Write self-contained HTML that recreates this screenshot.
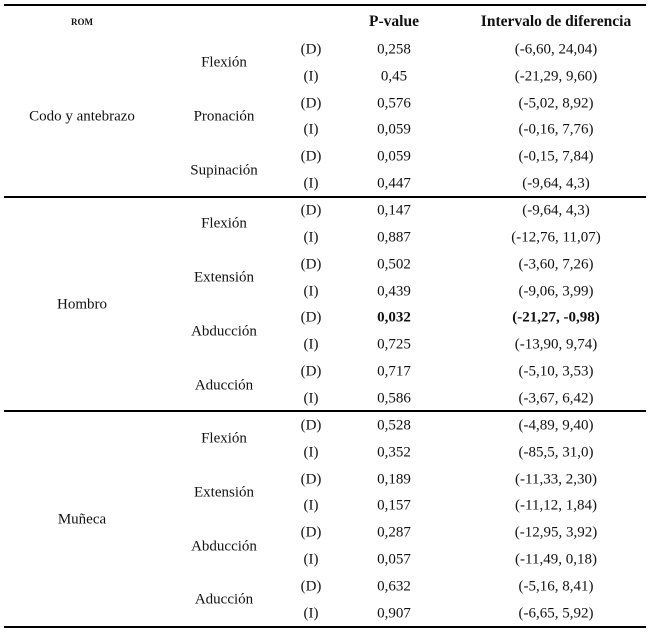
<!DOCTYPE html>
<html><head><meta charset="utf-8">
<style>
html,body{margin:0;padding:0;background:#fff;}
#t{position:relative;width:652px;height:633px;font-family:"Liberation Serif","DejaVu Serif",serif;font-size:15px;color:#111;}
.c{position:absolute;transform:translate(-50%,-50%);white-space:nowrap;}
.ln{position:absolute;left:4px;width:642px;height:1.5px;background:#000;}
.h{font-weight:bold;font-size:15.5px;}
</style></head><body>
<div id="t">
<div class="ln" style="top:4px"></div>
<div class="ln" style="top:196px"></div>
<div class="ln" style="top:410px"></div>
<div class="ln" style="top:626px"></div>
<div class="c h" style="left:82px;top:22px;font-size:9px">ROM</div>
<div class="c h" style="left:394px;top:22px">P-value</div>
<div class="c h" style="left:556px;top:22px">Intervalo de diferencia</div>
</div>
<script>
const groups=["Codo y antebrazo","Hombro","Muñeca"];
const groupRows=[6,8,8];
const movements=["Flexión","Pronación","Supinación","Flexión","Extensión","Abducción","Aducción","Flexión","Extensión","Abducción","Aducción"];
const pvalues=["0,258","0,45","0,576","0,059","0,059","0,447","0,147","0,887","0,502","0,439","0,032","0,725","0,717","0,586","0,528","0,352","0,189","0,157","0,287","0,057","0,632","0,907"];
const intervals=["(-6,60, 24,04)","(-21,29, 9,60)","(-5,02, 8,92)","(-0,16, 7,76)","(-0,15, 7,84)","(-9,64, 4,3)","(-9,64, 4,3)","(-12,76, 11,07)","(-3,60, 7,26)","(-9,06, 3,99)","(-21,27, -0,98)","(-13,90, 9,74)","(-5,10, 3,53)","(-3,67, 6,42)","(-4,89, 9,40)","(-85,5, 31,0)","(-11,33, 2,30)","(-11,12, 1,84)","(-12,95, 3,92)","(-11,49, 0,18)","(-5,16, 8,41)","(-6,65, 5,92)"];
const boldRows=[10];
const t=document.getElementById('t');
const top0=36.5, rh=26.85;
function cell(txt,x,y,bold){
  const d=document.createElement('div');
  d.className='c';
  d.textContent=txt;
  d.style.left=x+'px';d.style.top=y+'px';
  if(bold)d.style.fontWeight='bold';
  t.appendChild(d);
  return d;
}
let r=0;
groups.forEach((g,i)=>{
  const y=top0+(r+groupRows[i]/2)*rh;
  const d=cell(g,82,y,false);
  
  
  r+=groupRows[i];
});
movements.forEach((m,i)=>{
  const d=cell(m,224,top0+(i*2+1)*rh,false);
  
  
});
pvalues.forEach((p,i)=>{
  const y=top0+(i+0.5)*rh;
  const b=boldRows.includes(i);
  const s=cell(i%2===0?"(D)":"(I)",311,y,false);
  
  
  const pv=cell(p,394,y,b);
  
  
  const iv=cell(intervals[i],556,y,b);
  
  
});
</script>
</body></html>
